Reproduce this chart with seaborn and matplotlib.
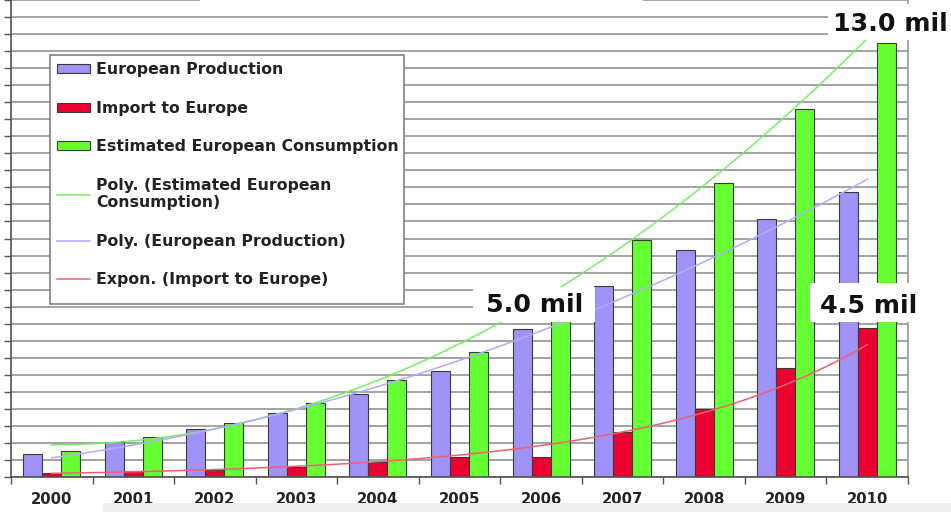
import numpy as np
import pandas as pd
import matplotlib.pyplot as plt
import seaborn as sns
from matplotlib.patches import Patch, Rectangle
from matplotlib.lines import Line2D

# values in million (one gridline = 0.5)
years = ['2000', '2001', '2002', '2003', '2004', '2005', '2006', '2007', '2008', '2009', '2010']
production = [0.67, 1.02, 1.40, 1.87, 2.43, 3.11, 4.33, 5.62, 6.67, 7.58, 8.36]
imports = [0.12, 0.18, 0.21, 0.30, 0.45, 0.60, 0.60, 1.31, 1.99, 3.21, 4.37]
consumption = [0.76, 1.17, 1.59, 2.16, 2.85, 3.67, 4.90, 6.95, 8.63, 10.79, 12.74]

series = ['European Production', 'Import to Europe', 'Estimated European Consumption']
trend_labels = ['Poly. (Estimated European\nConsumption)', 'Poly. (European Production)',
                'Expon. (Import to Europe)']
callouts = ['13.0 mil', '5.0 mil', '4.5 mil']

bar_colors = {'European Production': '#9f92f8',
              'Import to Europe': '#ec0030',
              'Estimated European Consumption': '#66ff33'}
green_line = '#77ee66'
purple_line = '#b3aaff'
red_line = '#f06070'

df = pd.DataFrame({
    'year': years * 3,
    'series': [series[0]] * 11 + [series[1]] * 11 + [series[2]] * 11,
    'value': production + imports + consumption,
})

W, H = 951, 512
fx = lambda x: x / W
fy = lambda y: 1 - y / H

fig = plt.figure(figsize=(9.51, 5.12), dpi=100)
ax = fig.add_axes([fx(11), 35 / H, (908 - 11) / W, 477 / H])

sns.barplot(data=df, x='year', y='value', hue='series', hue_order=series,
            palette=bar_colors, saturation=1, width=0.7, edgecolor='#3a3a3a',
            linewidth=0.8, legend=False, ax=ax)

# trend lines
xs = np.arange(len(years))
sns.regplot(x=xs, y=consumption, order=2, ci=None, scatter=False, truncate=True,
            line_kws=dict(color=green_line, lw=1.1), ax=ax)
sns.regplot(x=xs, y=production, order=2, ci=None, scatter=False, truncate=True,
            line_kws=dict(color=purple_line, lw=1.1), ax=ax)
coef = np.polyfit(xs, np.log(imports), 1)
xf = np.linspace(0, len(years) - 1, 100)
ax.plot(xf, np.exp(np.polyval(coef, xf)), color=red_line, lw=1.1)

ax.set_xlim(-0.5, 10.5)
ax.set_ylim(0, 14)
ax.set_xlabel('')
ax.set_ylabel('')
ax.set_yticks(np.arange(0, 14.01, 0.5))
ax.set_yticklabels([])
ax.yaxis.grid(True, color='#8a8a8a', lw=1.1)
ax.set_axisbelow(True)
ax.tick_params(axis='y', length=5, color='#555555', width=1)
ax.set_xticks(np.arange(-0.5, 11, 1), minor=True)
ax.tick_params(axis='x', which='major', length=0, pad=11)
ax.tick_params(axis='x', which='minor', length=5, color='#555555', width=1)
for lab in ax.get_xticklabels():
    lab.set_fontweight('bold')
    lab.set_fontsize(10.7)
    lab.set_color('#222222')

ax.spines['top'].set_visible(False)
ax.spines['left'].set_color('#505050')
ax.spines['left'].set_linewidth(1.2)
ax.spines['bottom'].set_color('#505050')
ax.spines['bottom'].set_linewidth(1.2)
ax.spines['right'].set_color('#9a9a9a')
ax.spines['right'].set_linewidth(1.2)

# legend frame drawn separately so it can be taller than its content
ax.add_patch(Rectangle((fx(50), fy(304)), (404 - 50) / W, (304 - 55) / H,
                       transform=fig.transFigure, fc='white', ec='#808080', lw=1.2,
                       clip_on=False, zorder=4.5))
handles = [Patch(fc=bar_colors[s], ec='#3a3a3a', lw=0.8) for s in series]
handles += [Line2D([], [], color=green_line, lw=1.1),
            Line2D([], [], color=purple_line, lw=1.1),
            Line2D([], [], color=red_line, lw=1.1)]
leg = ax.legend(handles, series + trend_labels, loc='upper left',
                bbox_to_anchor=(fx(50), fy(55)), bbox_transform=fig.transFigure,
                prop=dict(weight='bold', size=11.3), frameon=False,
                borderpad=0.45, labelspacing=1.5,
                handlelength=2.1, handleheight=0.5, handletextpad=0.4, borderaxespad=0)
for t in leg.get_texts():
    t.set_color('#222222')

# white boxes behind the call-outs and the cropped title area
def white_box(x0, y0, x1, y1):
    fig.add_artist(Rectangle((fx(x0), fy(y1)), (x1 - x0) / W, (y1 - y0) / H,
                             transform=fig.transFigure, fc='white', ec='none', zorder=5))

white_box(200, 0, 643, 4)
white_box(828, 4, 960, 40)
white_box(473, 287, 595, 322)
white_box(810, 283, 920, 322)
fig.add_artist(Rectangle((fx(103), 0), 1, 9 / H, transform=fig.transFigure,
                         fc='#efefef', ec='none', zorder=5))

txt = dict(fontsize=18.2, fontweight='bold', color='#111111', va='baseline', zorder=6)
fig.text(fx(948), fy(31), callouts[0], ha='right', **txt)
fig.text(fx(535), fy(312), callouts[1], ha='center', **txt)
fig.text(fx(869), fy(313), callouts[2], ha='center', **txt)

fig.savefig('out.png', dpi=100)
